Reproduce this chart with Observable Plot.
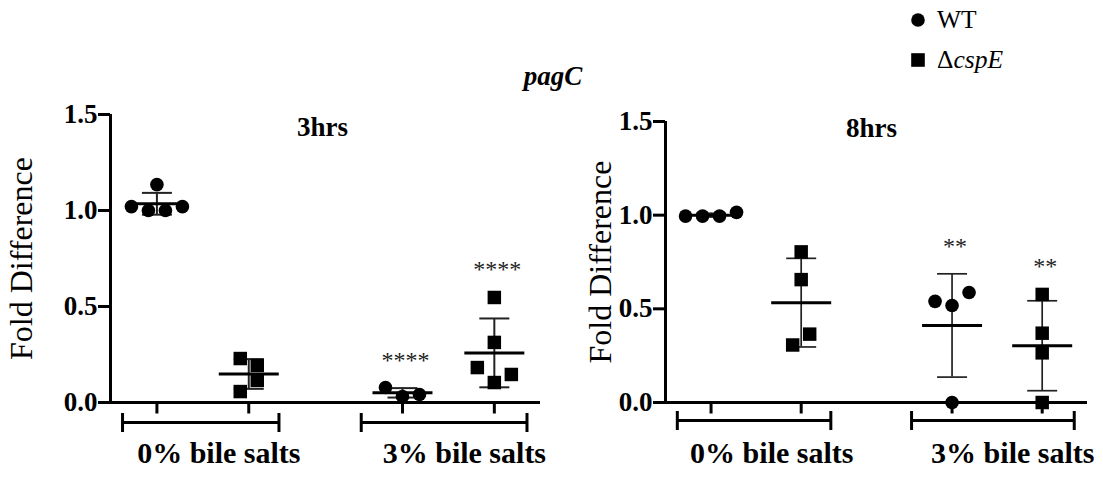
<!DOCTYPE html>
<html><head><meta charset="utf-8">
<script src="https://cdn.jsdelivr.net/npm/d3@7"></script>
<script src="https://cdn.jsdelivr.net/npm/@observablehq/plot@0.6"></script>
<style>
html,body{margin:0;padding:0;background:#fff;}
#chart{position:relative;width:1103px;height:478px;overflow:hidden;background:#fff;font-family:"Liberation Serif","Times New Roman",serif;}
#chart > svg{position:absolute;top:0;}
</style></head><body><div id="chart"></div>
<script>
// ---------- data ----------
const groups = ["0% bile salts", "3% bile salts"];
const strains = ["WT", "ΔcspE"];
const yTicks = [0, 0.5, 1.0, 1.5];
const geneTitle = "pagC";
const panelTitles = ["3hrs", "8hrs"];
const yLabel = "Fold Difference";

// 3 hrs
const h3_WT_0   = [1.02, 1.00, 1.00, 1.02, 1.135];
const h3_cspE_0 = [0.229, 0.193, 0.057, 0.115];
const h3_WT_3   = [0.078, 0.031, 0.042];
const h3_cspE_3 = [0.547, 0.313, 0.182, 0.104, 0.146];
const h3_stars  = ["", "", "****", "****"];

// 8 hrs
const h8_WT_0   = [0.995, 0.995, 0.995, 1.015];
const h8_cspE_0 = [0.804, 0.656, 0.307, 0.365];
const h8_WT_3   = [0.540, 0.518, 0.587, 0.0];
const h8_cspE_3 = [0.577, 0.370, 0.265, 0.0];
const h8_stars  = ["", "", "**", "**"];

// ---------- layout ----------
const SERIF = "'Liberation Serif','Times New Roman',Times,serif";
const H = 478;
const X_DOMAIN = [-0.376, 1.375];
const STRAIN_OFF = 0.187;
const BRACKET_EXT = [[0.327, 0.31], [0.355, 0.32]];
const hline = {draw(ctx, size){const r = Math.sqrt(size/Math.PI); ctx.moveTo(-r,0); ctx.lineTo(r,0);}};
const vline = {draw(ctx, size){const r = Math.sqrt(size/Math.PI); ctx.moveTo(0,-r); ctx.lineTo(0,r);}};

function panel(cfg){
  const {data, stars, title, width, ml, mr, mt, mb, labelDx, titleDx, titleDy, bracketDy, sdw} = cfg;
  const pxX = (width - ml - mr) / (X_DOMAIN[1] - X_DOMAIN[0]);
  const pxY = (H - mt - mb) / 1.5;
  const points = [], summary = [];
  groups.forEach((g, gi) => strains.forEach((s, si) => {
    const vals = data[gi][si];
    const cx = gi + (si ? 1 : -1) * STRAIN_OFF;
    const order = vals.map((v, i) => i).sort((a, b) => vals[b] - vals[a]);
    const clusters = []; let cur = [order[0]];
    for (let k = 1; k < order.length; k++) {
      const p = order[k-1], i = order[k];
      if ((vals[p] - vals[i]) * pxY < 13) cur.push(i); else { clusters.push(cur); cur = [i]; }
    }
    clusters.push(cur);
    clusters.forEach(c => {
      c.sort((a, b) => a - b);
      c.forEach((i, k) => points.push({strain: s, v: vals[i], x: cx + (k - (c.length - 1) / 2) * 17 / pxX}));
    });
    const mean = d3.mean(vals), sd = d3.deviation(vals);
    summary.push({x: cx, mean, lo: mean - sd, hi: mean + sd, top: Math.max(mean + sd, d3.max(vals)), star: stars[gi * 2 + si]});
  }));
  const brackets = groups.map((g, gi) => ({x1: gi - BRACKET_EXT[gi][0], x2: gi + BRACKET_EXT[gi][1]}));
  const bracketEnds = brackets.flatMap(b => [b.x1, b.x2]);

  return Plot.plot({
    width, height: H, marginLeft: ml, marginRight: mr, marginTop: mt, marginBottom: mb,
    style: {fontFamily: SERIF, background: "transparent", color: "black", overflow: "visible"},
    x: {domain: X_DOMAIN, axis: null},
    y: {domain: [0, 1.5]},
    marks: [
      Plot.ruleX(summary, {x: "x", y1: "lo", y2: "hi", stroke: "#222", strokeWidth: sdw}),
      Plot.dot(summary, {x: "x", y: "hi", symbol: hline, r: 15, stroke: "#222", strokeWidth: sdw, fill: "none"}),
      Plot.dot(summary, {x: "x", y: "lo", symbol: hline, r: 15, stroke: "#222", strokeWidth: sdw, fill: "none"}),
      Plot.dot(summary, {x: "x", y: "mean", symbol: hline, r: 30, stroke: "black", strokeWidth: 3, fill: "none"}),
      Plot.dot(points.filter(d => d.strain === "WT"), {x: "x", y: "v", symbol: "circle", r: 6.8, fill: "black"}),
      Plot.dot(points.filter(d => d.strain !== "WT"), {x: "x", y: "v", symbol: "square", r: 7.6, fill: "black"}),
      Plot.ruleY([0], {stroke: "black", strokeWidth: 3}),
      Plot.ruleX([X_DOMAIN[0]], {stroke: "black", strokeWidth: 3}),
      Plot.axisY({ticks: yTicks, tickFormat: d3.format(".1f"), tickSize: 12, tickPadding: 1, strokeWidth: 3,
                  fontSize: 27, fontWeight: "bold", fontFamily: SERIF, fill: "black", label: null}),
      Plot.dot(summary, {x: "x", y: () => 0, symbol: vline, r: 5.5, dy: 5.5, stroke: "black", strokeWidth: 3, fill: "none"}),
      Plot.ruleY(brackets, {x1: "x1", x2: "x2", y: () => 0, dy: bracketDy, stroke: "black", strokeWidth: 3}),
      Plot.dot(bracketEnds, {x: d => d, y: () => 0, dy: bracketDy, symbol: vline, r: 9.5, stroke: "black", strokeWidth: 3, fill: "none"}),
      Plot.text(groups, {x: (d, i) => i + 0.065, y: () => 0, dy: 60, text: d => d, lineAnchor: "bottom",
                         fontSize: 30, fontWeight: "bold", fontFamily: SERIF, fill: "black"}),
      Plot.text(summary.filter(d => d.star), {x: "x", y: "top", dy: -20, dx: 3, text: "star", lineAnchor: "bottom",
                         fontSize: 24, fontFamily: SERIF, fill: "#222"}),
      Plot.text([title], {frameAnchor: "top", text: d => d, dx: titleDx, dy: titleDy, lineAnchor: "bottom",
                         fontSize: 27, fontWeight: "bold", fontFamily: SERIF, fill: "black"}),
      Plot.text([yLabel], {frameAnchor: "left", text: d => d, rotate: -90, dx: labelDx, textAnchor: "middle", lineAnchor: "bottom",
                         fontSize: 32, fontFamily: SERIF, fill: "black"})
    ]
  });
}

const chart = document.getElementById("chart");
const p1 = panel({data: [[h3_WT_0, h3_cspE_0], [h3_WT_3, h3_cspE_3]], stars: h3_stars, title: panelTitles[0],
  width: 560, ml: 110, mr: 20, mt: 114, mb: 76, labelDx: -79, titleDx: -3, titleDy: 21, bracketDy: 20, sdw: 2});
p1.style.left = "0px";
chart.appendChild(p1);
const p2 = panel({data: [[h8_WT_0, h8_cspE_0], [h8_WT_3, h8_cspE_3]], stars: h8_stars, title: panelTitles[1],
  width: 548, ml: 110, mr: 16, mt: 121, mb: 76, labelDx: -55, titleDx: -5, titleDy: 15, bracketDy: 18, sdw: 1.7});
p2.style.left = "555px";
chart.appendChild(p2);

// overlay: gene title and legend
const ov = d3.create("svg").attr("width", 1103).attr("height", H)
  .style("left", "0px").style("pointer-events", "none").style("font-family", SERIF);
ov.append("text").attr("x", 553).attr("y", 85).attr("text-anchor", "middle")
  .attr("font-size", 27).attr("font-weight", "bold").attr("font-style", "italic").text(geneTitle);
const lg = ov.append("g");
lg.append("circle").attr("cx", 918).attr("cy", 20).attr("r", 6.8).attr("fill", "black");
lg.append("text").attr("x", 937).attr("y", 28).attr("font-size", 25.5).text(strains[0]);
lg.append("rect").attr("x", 918 - 6.8).attr("y", 60 - 6.8).attr("width", 13.6).attr("height", 13.6).attr("fill", "black");
const t2 = lg.append("text").attr("x", 937).attr("y", 68).attr("font-size", 25.5);
t2.append("tspan").text(strains[1].slice(0, 1));
t2.append("tspan").attr("font-style", "italic").text(strains[1].slice(1));
chart.appendChild(ov.node());
</script></body></html>
